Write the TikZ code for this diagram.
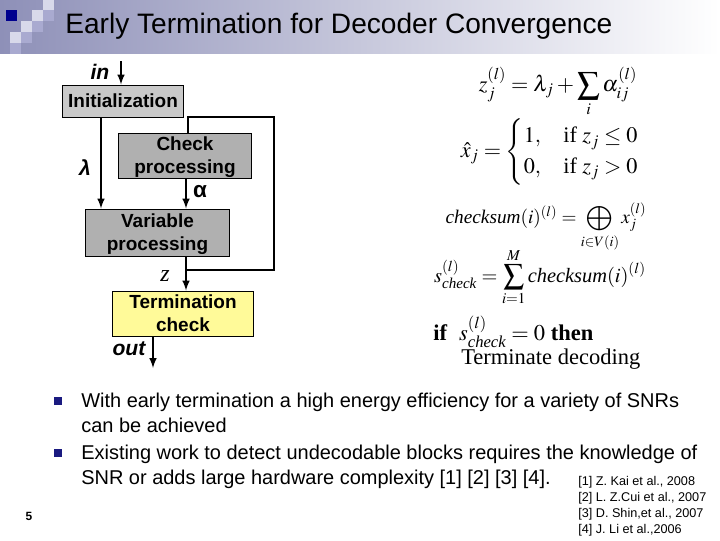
\documentclass[tikz,border=0pt]{standalone}
\usepackage{amsmath,amssymb}
\usepackage{mathptmx}
\usepackage{fontspec}
\setmainfont{Liberation Sans}
\newfontfamily\serifeq{Liberation Serif}
\usetikzlibrary{calc, positioning, arrows}
\definecolor{headleft}{HTML}{8E90B8}
\definecolor{headdark}{HTML}{00008E}
\definecolor{headlight}{HTML}{D8D9EA}
\definecolor{headmid}{HTML}{A9AAD0}
\definecolor{bulletblue}{HTML}{1A1A80}
\newcommand{\itword}[1]{\text{\serifeq\itshape #1}}
\newcommand{\dropline}{\rule{0pt}{12.6pt}}
\tikzstyle{box}=[draw=black, line width=0.7pt, inner sep=0pt, align=center, font=\fontsize{13.5}{16.3}\selectfont\bfseries]
\tikzstyle{flow}=[line width=1.4pt, -latex]
\tikzstyle{wire}=[line width=1.4pt]
\tikzstyle{tag}=[font=\fontsize{15}{18}\selectfont\bfseries\itshape]
\tikzstyle{eqn}=[inner sep=0pt, font=\fontsize{15.8}{18}\selectfont\serifeq]
\tikzstyle{body}=[inner sep=0pt, anchor=north west, align=left, font=\fontsize{14.2}{17.8}\selectfont]
\tikzstyle{cite}=[inner sep=0pt, anchor=west, font=\fontsize{9}{10}\selectfont]
\begin{document}
\begin{tikzpicture}[x=0.025cm, y=-0.025cm]
		\useasboundingbox (0,0) rectangle (720,540);
		\shade[left color=headleft, right color=white] (0,0) rectangle (720,53);
		\foreach \x / \y in {32/10,43/0,21/21,10/32}
		\fill[headlight] (\x,\y) rectangle ++(11,11);
		\foreach \x / \y in {43/10,32/21,21/32,10/43}
		\fill[headmid] (\x,\y) rectangle ++(11,10.5);
		\fill[headdark] (6,10) rectangle (17,21);
		\node[inner sep=0pt, anchor=west, font=\fontsize{20}{24}\selectfont] (title) at (65,26) {Early Termination for Decoder Convergence};

		\node[box, fill=gray!42, minimum width=3cm, minimum height=0.8cm] (init) at (123,101) {Initialization};
		\node[box, fill=gray!62, minimum width=3.3cm, minimum height=1.125cm] (check) at (185,155.5) {\dropline Check\\processing};
		\node[box, fill=gray!62, minimum width=3.575cm, minimum height=1.175cm] (var) at (157.5,232.5) {\dropline Variable\\processing};
		\node[box, fill=yellow!40, minimum width=3.5cm, minimum height=1.125cm] (term) at (183,313.5) {Termination\\check};

		\coordinate (start) at (121,61);
		\coordinate (lam) at (101,117);
		\coordinate (branch) at (186,270);
		\coordinate (corner) at (274,270);
		\coordinate (back) at (274,117);
		\coordinate (top) at (188,117);
		\coordinate (exit) at (153,336);
		\coordinate (stop) at (153,368);

		\draw[flow] (start) -- (start |- init.north);
		\draw[flow] (lam) -- (lam |- var.north);
		\draw[flow] (check.south -| branch) -- (var.north -| branch);
		\draw[flow] (var.south -| branch) -- (term.north -| branch);
		\draw[wire] (branch) -- (corner) -- (back) -- (top) -- (top |- check.north);
		\draw[flow] (exit) -- (stop);

		\node[tag] (in) at (100,72) {in};
		\node[tag] (out) at (129,349) {out};
		\node[tag] (lambda) at (85,168) {λ};
		\node[tag, font=\fontsize{16}{18}\selectfont\bfseries] (alpha) at (200,192) {α};
		\node[eqn, font=\fontsize{17}{18}\selectfont\serifeq\itshape] (z) at (165,276) {z};

		\node[eqn] (sum) at (558,92) {$z_j^{(l)}=\lambda_j+\displaystyle\sum_i\alpha_{ij}^{(l)}$};
		\node[eqn] (hard) at (550,152) {$\hat{x}_j=\begin{cases}1, & \text{if } z_j\leq 0\\ 0, & \text{if } z_j>0\end{cases}$};
		\node[eqn, font=\fontsize{13.7}{16}\selectfont\serifeq] (parity) at (546,227) {$\itword{checksum}(i)^{(l)}=\displaystyle\bigoplus_{i\in V(i)}x_j^{(l)}$};
		\node[eqn, font=\fontsize{14.5}{16}\selectfont\serifeq] (total) at (540,277) {$s_{\itword{check}}^{(l)}=\displaystyle\sum_{i=1}^{M}\itword{checksum}(i)^{(l)}$};
		\node[eqn, anchor=west, font=\fontsize{16}{18}\selectfont\serifeq] (test) at (433,332) {\textbf{if}\; $s_{\itword{check}}^{(l)}=0$ \textbf{then}};
		\node[eqn, anchor=west, font=\fontsize{16}{18}\selectfont\serifeq] (stopdec) at (461,359) {Terminate decoding};

		\foreach \y in {401,453}
		\fill[bulletblue] (54,\y-4) rectangle ++(8,8);
		\node[body] (first) at (81,393) {With early termination a high energy efficiency for a variety of SNRs\\can be achieved};
		\node[body] (second) at (81,444.5) {Existing work to detect undecodable blocks requires the knowledge of\\SNR or adds large hardware complexity [1] [2] [3] [4].};
		\node[inner sep=0pt, font=\fontsize{8.5}{10}\selectfont\bfseries] (page) at (29,516) {5};

		\node[cite] (ref1) at (578,482) {[1] Z. Kai et al., 2008};
		\node[cite] (ref2) at (578,498) {[2] L. Z.Cui et al., 2007};
		\node[cite] (ref3) at (578,514) {[3] D. Shin,et al., 2007};
		\node[cite] (ref4) at (578,530) {[4] J. Li et al.,2006};
	\end{tikzpicture}
\end{document}
